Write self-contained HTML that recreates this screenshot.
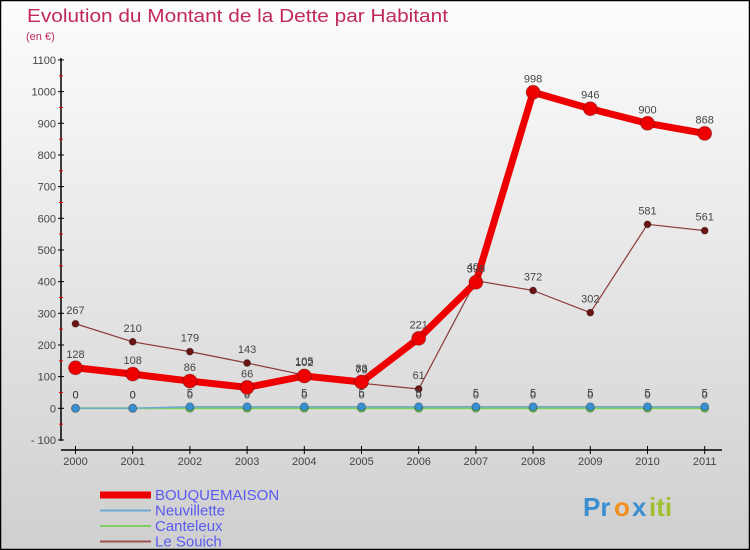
<!DOCTYPE html>
<html><head><meta charset="utf-8"><style>
html,body{margin:0;padding:0}
body{width:750px;height:550px;overflow:hidden;font-family:"Liberation Sans",sans-serif}
</style></head><body>
<svg id="chart" width="750" height="550" xmlns="http://www.w3.org/2000/svg" style="display:block">
<defs><linearGradient id="bg" x1="0" y1="0" x2="0" y2="1"><stop offset="0" stop-color="#fdfdfd"/><stop offset="1" stop-color="#cfcfcf"/></linearGradient></defs>
<rect x="0.5" y="0.5" width="749" height="549" fill="url(#bg)" stroke="#000" stroke-width="1.5"/>
<text x="27" y="22" font-size="18.5" fill="#c0285e" textLength="421" lengthAdjust="spacingAndGlyphs">Evolution du Montant de la Dette par Habitant</text>
<text x="26" y="40" font-size="11" fill="#c0285e">(en €)</text>
<g id="axes"></g><g id="series"></g><g id="legend"></g>
<g font-size="26" font-weight="bold" font-family="'Liberation Sans',sans-serif">
<text x="583" y="516" fill="#3a8fd0">Pr</text><text x="614" y="516" fill="#f09020">o</text><text x="632" y="516" fill="#3a8fd0">x</text><text x="649" y="516" fill="#a0c030">iti</text>
</g>
</svg>
<script>
const years=["2000","2001","2002","2003","2004","2005","2006","2007","2008","2009","2010","2011"];
const yTicks=[-100,0,100,200,300,400,500,600,700,800,900,1000,1100];
const bouquemaison=[128,108,86,66,102,83,221,398,998,946,900,868];
const neuvillette=[0,0,5,5,5,5,5,5,5,5,5,5];
const canteleux=[0,0,0,0,0,0,0,0,0,0,0,0];
const leSouich=[267,210,179,143,105,79,61,403,372,302,581,561];
const NS="http://www.w3.org/2000/svg";
const x=i=>75.5+i*57.2;
const y=v=>408.3-v*(380/1200);
function mk(p,t,a){const e=document.createElementNS(NS,t);for(const k in a)e.setAttribute(k,a[k]);p.appendChild(e);return e;}
const axes=document.getElementById('axes');
const ya=mk(axes,'line',{x1:61,y1:58,x2:61,y2:441,stroke:'#000','stroke-width':1.5});


yTicks.forEach((t,i)=>{
  mk(axes,'line',{x1:58,y1:y(t),x2:64,y2:y(t),stroke:'#000'});
  if(i<yTicks.length-1){mk(axes,'line',{x1:59,y1:y(t+50),x2:63,y2:y(t+50),stroke:'#e00'});}
  const tx=mk(axes,'text',{x:56,y:y(t)+4,'font-size':11,'text-anchor':'end',fill:'#444'});
  tx.textContent=t===-100?'- 100':t;
  
  
});
const xa=mk(axes,'line',{x1:61,y1:450,x2:722,y2:450,stroke:'#000','stroke-width':1.5});


years.forEach((yr,i)=>{
  mk(axes,'line',{x1:x(i),y1:446,x2:x(i),y2:454,stroke:'#000'});
  const tx=mk(axes,'text',{x:x(i),y:465,'font-size':11,'text-anchor':'middle',fill:'#444'});
  tx.textContent=yr;
  
  
});
const sg=document.getElementById('series');
function series(name,data,color,w,r,dotColor,labels){
  const g=mk(sg,'g',{});
  
  
  const pl=mk(g,'polyline',{points:data.map((v,i)=>x(i)+','+y(v)).join(' '),fill:'none',stroke:color,'stroke-width':w,'stroke-linejoin':'round'});
  
  
  data.forEach((v,i)=>{
    const c=mk(g,'circle',{cx:x(i),cy:y(v),r:r,fill:dotColor,stroke:'rgba(0,0,0,0.25)','stroke-width':1});
    
    
    if(labels){
      const t=mk(g,'text',{x:x(i),y:y(v)-10,'font-size':11,'text-anchor':'middle',fill:'#444'});
      t.textContent=v;
      
      
    }
  });
}
series('le-souich',leSouich,'#8b3a3a',1.2,3.5,'#6b1414',true);
series('canteleux',canteleux,'#80d060',2,4,'#70d040',false);
series('neuvillette',neuvillette,'#70a8d0',1.5,4,'#3a8fd0',false);
// value labels for small series
neuvillette.forEach((v,i)=>{
  const t=mk(sg,'text',{x:x(i),y:y(v)-10,'font-size':11,'text-anchor':'middle',fill:'#444'});
  t.textContent=v;
  
  
});
canteleux.forEach((v,i)=>{
  const t=mk(sg,'text',{x:x(i),y:y(v)-10,'font-size':11,'text-anchor':'middle',fill:'#444'});
  t.textContent=v;
  
  
});
series('bouquemaison',bouquemaison,'#ee0000',7,7,'#ee0000',true);
const lg=document.getElementById('legend');
const entries=[["BOUQUEMAISON","#ee0000",7],["Neuvillette","#70a8d0",2],["Canteleux","#80d060",2],["Le Souich","#a05050",2]];
entries.forEach((e,i)=>{
  const yy=493+i*15.5;
  const g=mk(lg,'g',{});
  
  
  mk(g,'line',{x1:100,y1:yy+2,x2:151,y2:yy+2,stroke:e[1],'stroke-width':e[2]});
  const t=mk(g,'text',{x:155,y:yy+7,'font-size':15,fill:'#5a5af0'});
  t.textContent=e[0];
});
</script>
</body></html>
